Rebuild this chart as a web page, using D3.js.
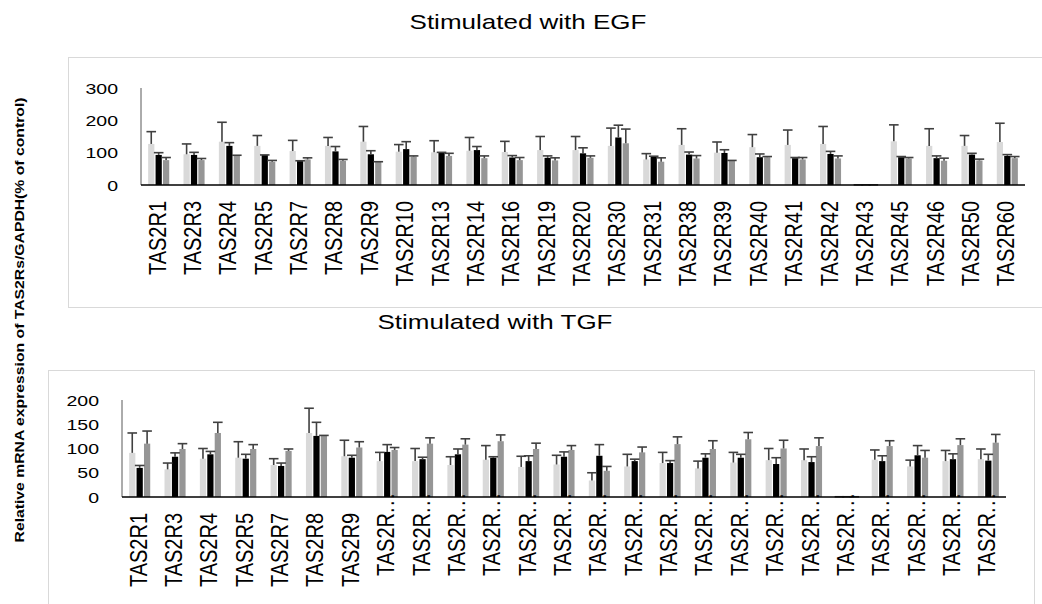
<!DOCTYPE html>
<html>
<head>
<meta charset="utf-8">
<script src="https://cdn.jsdelivr.net/npm/d3@7"></script>
<style>
  body { margin: 0; background: #fff; }
  svg { display: block; }
</style>
</head>
<body>
<svg id="chart" width="1042" height="604"></svg>
<script>
// receptor names (top panel shows full names, bottom panel truncates long ones)
const genes = ["TAS2R1","TAS2R3","TAS2R4","TAS2R5","TAS2R7","TAS2R8","TAS2R9","TAS2R10","TAS2R13",
  "TAS2R14","TAS2R16","TAS2R19","TAS2R20","TAS2R30","TAS2R31","TAS2R38","TAS2R39","TAS2R40",
  "TAS2R41","TAS2R42","TAS2R43","TAS2R45","TAS2R46","TAS2R50","TAS2R60"];
const tgfLabels = genes.map(g => g.length > 6 ? "TAS2R..." : g);

// EGF, % of control (means and upper error)
const egfLight    = [127,95,134,121,105,121,134,103,101,106,102,108,108,121,79,124,100,117,124,127,0.5,135,121,121,133];
const egfLightErr = [38,32,60,32,33,26,47,22,36,41,33,42,42,55,18,50,33,39,46,54,0,51,53,32,58];
const egfBlack    = [93,93,121,93,74,104,95,111,100,108,85,84,98,147,87,94,99,86,83,96,0.5,86,83,94,90];
const egfBlackErr = [7,8,10,0,1,15,11,23,1,11,6,6,17,38,2,8,10,10,2,8,0,2,7,4,4];
const egfGray     = [77,77,90,72,79,75,72,88,90,83,77,76,84,129,72,82,75,86,79,82,0.5,82,75,76,83];
const egfGrayErr  = [8,5,2,4,5,4,0,2,8,7,8,8,6,44,12,9,1,2,6,8,0,3,8,4,5];

// TGF, % of control
const tgfLight    = [91,57,79,81,66,132,84,74,74,66,77,62,67,34,63,70,59,71,76,76,0.5,77,63,74,78];
const tgfLightErr = [41,13,21,33,13,51,33,18,26,17,29,22,19,16,25,22,15,21,24,23,0,20,13,22,21];
const tgfBlack    = [60,83,88,79,64,126,81,93,78,88,81,74,83,85,74,70,81,81,68,72,0.5,74,86,78,75];
const tgfBlackErr = [5,8,6,9,6,28,5,15,4,11,2,11,10,23,4,5,8,7,13,11,0,11,20,11,13];
const tgfGray     = [110,99,132,99,95,126,102,97,110,108,115,99,97,54,92,109,99,119,100,105,0.5,105,81,107,112];
const tgfGrayErr  = [26,11,22,9,4,1,12,5,12,12,13,12,9,9,11,15,17,14,17,17,0,11,15,13,17];

const topTicks = [0, 100, 200, 300];
const bottomTicks = [0, 50, 100, 150, 200];

const COLORS = ["#d9d9d9", "#000000", "#969696"];
const FONT = "Liberation Sans, Arial, sans-serif";

const svg = d3.select("#chart");

// panel frames
svg.append("rect").attr("x", 68.5).attr("y", 57.5).attr("width", 1000).attr("height", 250)
  .attr("fill", "none").attr("stroke", "#d9d9d9");
svg.append("rect").attr("x", 48.5).attr("y", 370.5).attr("width", 986).attr("height", 260)
  .attr("fill", "none").attr("stroke", "#d9d9d9");

function stretchedText(x, y, txt, size, sx, anchor) {
  return svg.append("text")
    .attr("transform", `translate(${x},${y}) scale(${sx},1)`)
    .attr("text-anchor", anchor || "middle")
    .attr("font-family", FONT)
    .attr("font-size", size)
    .attr("fill", "#000")
    .text(txt);
}

function drawPanel(cfg) {
  const x = d3.scaleBand().domain(d3.range(genes.length)).range([cfg.left, cfg.right]);
  const y = d3.scaleLinear().domain([0, cfg.max]).range([cfg.base, cfg.top]);
  const g = svg.append("g");

  // y axis
  g.append("line").attr("x1", cfg.left).attr("x2", cfg.left)
    .attr("y1", y(cfg.max)).attr("y2", y(0)).attr("stroke", "#595959").attr("stroke-width", 1);

  cfg.ticks.forEach(t => {
    stretchedText(cfg.left - 23, y(t) + 5.5, t, 15, 1.3, "end");
  });

  const pitch = x.bandwidth() * 0.21;
  const off = (x.bandwidth() - pitch * 3) / 2;
  const series = [[cfg.light, cfg.lightErr], [cfg.black, cfg.blackErr], [cfg.gray, cfg.grayErr]];

  series.forEach(([vals, errs], s) => {
    const bx = i => x(i) + off + s * pitch;
    g.append("g").selectAll("rect").data(vals).join("rect")
      .attr("x", (d, i) => bx(i) + 0.6)
      .attr("y", d => y(d))
      .attr("width", pitch - 1.2)
      .attr("height", d => y(0) - y(d))
      .attr("fill", COLORS[s]);
  });

  series.forEach(([vals, errs], s) => {
    const cx = i => x(i) + off + s * pitch + pitch / 2;
    const eg = g.append("g").attr("stroke", "#404040").attr("stroke-width", 1.6);
    eg.selectAll("line.stem").data(vals).join("line").attr("class", "stem")
      .attr("x1", (d, i) => cx(i)).attr("x2", (d, i) => cx(i))
      .attr("y1", d => y(d)).attr("y2", (d, i) => y(d + errs[i]));
    eg.selectAll("line.cap").data(vals).join("line").attr("class", "cap")
      .attr("x1", (d, i) => cx(i) - 4.8).attr("x2", (d, i) => cx(i) + 4.8)
      .attr("y1", (d, i) => y(d + errs[i])).attr("y2", (d, i) => y(d + errs[i]));
  });

  // x axis
  g.append("line").attr("x1", cfg.left).attr("x2", cfg.right)
    .attr("y1", y(0)).attr("y2", y(0)).attr("stroke", "#000").attr("stroke-width", 1.5);

  cfg.labels.forEach((lab, i) => {
    const cx = x(i) + x.bandwidth() / 2 + 7;
    const ly = y(0) + 16;
    const main = lab.replace("...", "");
    svg.append("text")
      .attr("transform", `translate(${cx},${ly}) scale(1.18,1) rotate(-90)`)
      .attr("text-anchor", "end")
      .attr("font-family", FONT).attr("font-size", 20).attr("fill", "#000")
      .text(main);
    if (lab.endsWith("...")) {
      svg.append("text")
        .attr("transform", `translate(${cx},${ly}) scale(1.18,1) rotate(-90)`)
        .attr("text-anchor", "start")
        .attr("font-family", FONT).attr("font-size", 20).attr("fill", "#000")
        .attr("letter-spacing", 1.5)
        .text("...");
    }
  });
}

drawPanel({
  left: 141, right: 1025, base: 185, top: 88, max: 300, ticks: topTicks, labels: genes,
  light: egfLight, lightErr: egfLightErr, black: egfBlack, blackErr: egfBlackErr,
  gray: egfGray, grayErr: egfGrayErr
});
drawPanel({
  left: 122, right: 1006, base: 497, top: 400, max: 200, ticks: bottomTicks, labels: tgfLabels,
  light: tgfLight, lightErr: tgfLightErr, black: tgfBlack, blackErr: tgfBlackErr,
  gray: tgfGray, grayErr: tgfGrayErr
});

// titles
stretchedText(528, 29, "Stimulated with EGF", 20, 1.3);
stretchedText(495, 329, "Stimulated with TGF", 20, 1.3);

// shared y label (stretched along its length like the source figure)
svg.append("text")
  .attr("transform", "translate(24,320) rotate(-90) scale(1.26,1)")
  .attr("text-anchor", "middle")
  .attr("font-family", FONT).attr("font-size", 12.5).attr("font-weight", "bold")
  .attr("fill", "#000")
  .text("Relative mRNA expression of TAS2Rs/GAPDH(% of control)");
</script>
</body>
</html>
